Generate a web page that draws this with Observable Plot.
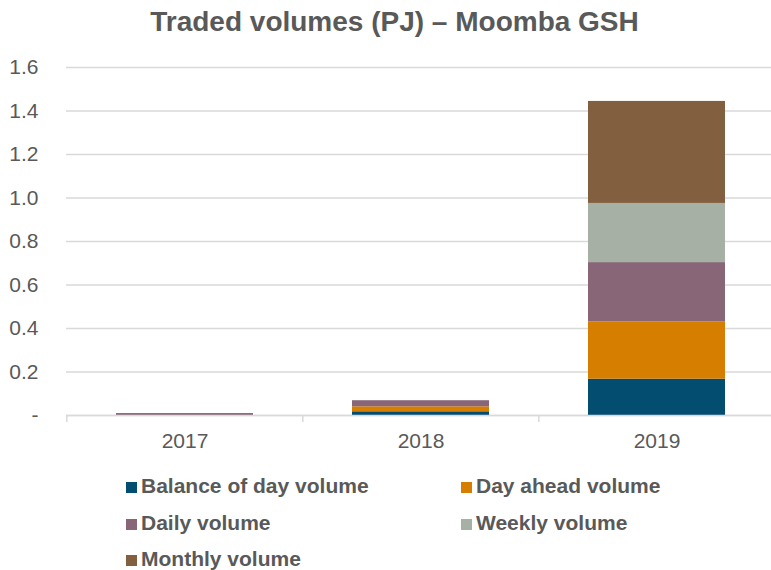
<!DOCTYPE html>
<html>
<head>
<meta charset="utf-8">
<script src="https://cdn.jsdelivr.net/npm/d3@7"></script>
<script src="https://cdn.jsdelivr.net/npm/@observablehq/plot@0.6"></script>
<style>
  body { margin: 0; background: #fff; }
  #wrap { width: 771px; height: 570px; overflow: hidden; position: relative; font-family: "Liberation Sans", Arial, sans-serif; color: #595959; }
  #title { height: 48px; line-height: 44px; font-size: 28px; font-weight: bold; text-align: center; padding-left: 18px; box-sizing: border-box; white-space: nowrap; }
  #legend { display: grid; grid-template-columns: 335px 300px; padding-left: 126px; font-size: 21px; font-weight: bold; line-height: 36.7px; }
  #legend .item { white-space: nowrap; }
  #legend .sw { display: inline-block; width: 11px; height: 11px; margin-right: 4px; }
</style>
</head>
<body>
<div id="wrap">
  <div id="title">Traded volumes (PJ) – Moomba GSH</div>
  <div id="chart"></div>
  <div id="legend"></div>
</div>
<script>
const years = ["2017", "2018", "2019"];
const seriesNames = ["Balance of day volume", "Day ahead volume", "Daily volume", "Weekly volume", "Monthly volume"];
const seriesColors = ["#024D70", "#D67E00", "#886678", "#A6B0A4", "#82603F"];
const balanceOfDay = [0.000, 0.017, 0.167];
const dayAhead = [0.000, 0.023, 0.264];
const daily = [0.009, 0.028, 0.272];
const weekly = [0.000, 0.000, 0.272];
const monthly = [0.000, 0.000, 0.469];
const yTicks = [0, 0.2, 0.4, 0.6, 0.8, 1.0, 1.2, 1.4, 1.6];

const seriesValues = [balanceOfDay, dayAhead, daily, weekly, monthly];
const rows = [];
seriesNames.forEach((s, si) => {
  years.forEach((y, yi) => rows.push({year: y, series: s, value: seriesValues[si][yi]}));
});

const W = 771, ML = 66, XR = 775;
const halfStep = (XR - ML) / years.length / 2;

const chart = Plot.plot({
  width: W,
  height: 420,
  marginTop: 19,
  marginBottom: 53,
  marginLeft: ML,
  marginRight: 0,
  style: {fontFamily: "Liberation Sans, Arial, sans-serif", fontSize: "21px", color: "#595959", background: "#fff"},
  x: {domain: years, range: [ML, XR], paddingInner: 0.42, paddingOuter: 0.21, label: null},
  y: {domain: [0, 1.6], label: null},
  color: {domain: seriesNames, range: seriesColors},
  marks: [
    Plot.gridY(yTicks, {stroke: "#d9d9d9", strokeOpacity: 1, strokeWidth: 1.5}),
    Plot.barY(rows, {x: "year", y: "value", fill: "series", order: seriesNames}),
    Plot.ruleY([0], {stroke: "#d9d9d9", strokeWidth: 1.5}),
    Plot.axisY(yTicks, {tickSize: 0, tickPadding: 28, tickFormat: d => d === 0 ? "-" : d.toFixed(1), fill: "#595959"}),
    Plot.axisX({tickSize: 0, tickPadding: 18, fill: "#595959"}),
    Plot.axisX({text: null, tickSize: 7, dx: -halfStep, stroke: "#d9d9d9", strokeWidth: 1.5})
  ]
});
document.getElementById("chart").appendChild(chart);

const legend = document.getElementById("legend");
seriesNames.forEach((s, i) => {
  const div = document.createElement("div");
  div.className = "item";
  const sw = document.createElement("span");
  sw.className = "sw";
  sw.style.background = seriesColors[i];
  div.appendChild(sw);
  div.appendChild(document.createTextNode(s));
  legend.appendChild(div);
});
</script>
</body>
</html>
